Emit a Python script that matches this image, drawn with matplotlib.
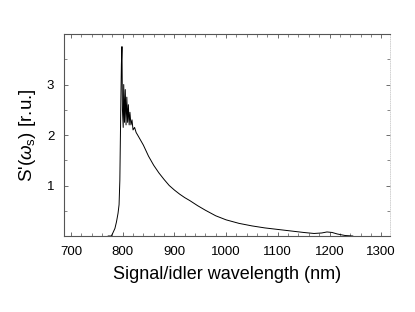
"""
Signal/idler spectrum S'(w_s) vs wavelength
"""

import numpy as np
import matplotlib
matplotlib.use("Agg")
import matplotlib.pyplot as plt
from matplotlib.ticker import MultipleLocator

plt.rcParams["font.family"] = ["Liberation Sans", "DejaVu Sans"]
plt.rcParams["mathtext.fontset"] = "custom"
plt.rcParams["mathtext.rm"] = "Liberation Sans"
plt.rcParams["mathtext.it"] = "Liberation Sans:italic"

# values (nm, relative units)
wavelength = [772, 778, 781, 785, 788, 791, 793, 794.5, 795.5, 796.5, 797.5, 798.6,
              799.5, 801, 802, 803.5, 805, 806.5, 808, 809.5, 811, 812.5, 814,
              816, 818, 820, 823, 826, 830, 840, 850, 860, 870, 880, 890, 900,
              910, 920, 930, 945, 960, 980, 1000, 1025, 1050, 1075, 1100, 1125,
              1150, 1170, 1185, 1195, 1205, 1215, 1230, 1245]
spectrum = [0, 0.0, 0.06, 0.15, 0.28, 0.45, 0.62, 1.1, 1.9, 2.7, 3.4, 3.75,
            2.5, 2.15, 3.0, 2.25, 2.9, 2.2, 2.75, 2.25, 2.6, 2.2, 2.45,
            2.2, 2.3, 2.1, 2.15, 2.05, 1.98, 1.80, 1.58, 1.40, 1.25, 1.12, 1.00, 0.91,
            0.83, 0.76, 0.70, 0.60, 0.51, 0.40, 0.32, 0.25, 0.20, 0.16, 0.13, 0.10,
            0.07, 0.05, 0.06, 0.08, 0.07, 0.04, 0.01, 0.0]

x_ticks = [700, 800, 900, 1000, 1100, 1200, 1300]
y_ticks = [1, 2, 3]

fig = plt.figure(figsize=(4.15, 3.12), dpi=100)
ax = fig.add_axes([64 / 415, 76 / 312, 326 / 415, 202 / 312])

ax.plot(wavelength, spectrum, color="black", linewidth=0.7)

ax.set_xlim(686.5, 1317)
ax.set_ylim(0, 4)
ax.set_xticks(x_ticks)
ax.set_yticks(y_ticks)
ax.xaxis.set_minor_locator(MultipleLocator(20))
ax.yaxis.set_minor_locator(MultipleLocator(0.5))

ax.tick_params(which="both", direction="in", top=True, right=True,
               color="#555555", labelsize=9.5, pad=7)
ax.tick_params(which="major", length=3, width=0.6)
ax.tick_params(which="minor", length=2, width=0.5)

for side in ["left", "top", "bottom"]:
    ax.spines[side].set_color("#555555")
    ax.spines[side].set_linewidth(0.8)
ax.spines["right"].set_linestyle(":")
ax.spines["right"].set_color("#cccccc")
ax.spines["right"].set_linewidth(0.6)

ax.set_xlabel("Signal/idler wavelength (nm)", fontsize=13, labelpad=6)
ax.set_ylabel(r"S'($\omega_\mathrm{s}$) [r.u.]", fontsize=13.5, labelpad=6)

plt.savefig("out.png", dpi=100)
plt.close()
